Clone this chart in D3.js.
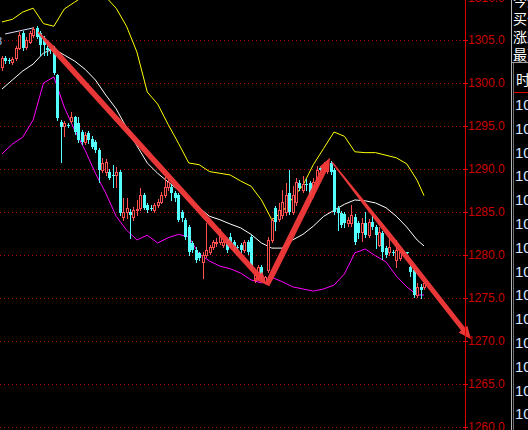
<!DOCTYPE html>
<html>
<head>
<meta charset="utf-8">
<script src="https://cdn.jsdelivr.net/npm/d3@7"></script>
<style>
  html, body { margin: 0; padding: 0; background: #000; overflow: hidden; }
  svg { display: block; }
</style>
</head>
<body>
<svg id="chart" width="528" height="430"></svg>
<script>
// OHLC bars: [open, high, low, close]
const candles = [
  [1301.9,1303.1,1301.5,1302.9],[1302.9,1303.1,1302.3,1302.5],[1302.7,1302.9,1302.3,1302.5],[1302.4,1303.0,1302.2,1302.8],
  [1302.9,1304.3,1302.7,1304.1],[1304.1,1305.9,1303.9,1305.6],[1305.8,1306.0,1303.8,1304.1],[1304.2,1305.4,1304.0,1305.0],
  [1304.8,1306.0,1304.6,1305.8],[1305.6,1306.5,1305.4,1306.3],[1306.4,1306.6,1305.2,1305.35],[1305.8,1306.0,1303.3,1304.4],
  [1305.2,1305.5,1303.3,1304.4],[1304.1,1304.8,1303.2,1303.8],[1303.9,1304.2,1303.5,1303.8],[1304.1,1304.3,1301.0,1301.2],
  [1300.9,1301.1,1295.7,1295.9],[1295.5,1295.7,1290.8,1294.9],[1295.0,1295.6,1293.8,1295.3],[1295.1,1295.3,1294.9,1295.1],
  [1295.6,1296.6,1295.3,1296.0],[1296.0,1296.2,1294.1,1294.3],[1295.3,1296.0,1293.1,1293.4],[1294.3,1294.5,1292.9,1293.1],
  [1293.1,1294.3,1292.9,1294.0],[1294.2,1294.4,1293.0,1293.4],[1293.5,1293.8,1292.4,1292.6],[1293.1,1293.4,1292.0,1292.2],
  [1292.2,1292.4,1288.5,1289.9],[1289.9,1291.3,1289.6,1290.7],[1289.6,1291.2,1289.3,1290.8],[1289.6,1290.0,1288.8,1289.0],
  [1289.3,1290.5,1287.9,1289.2],[1289.3,1290.2,1287.9,1289.6],[1289.6,1289.9,1284.6,1284.9],[1284.4,1286.6,1284.1,1285.0],
  [1285.0,1286.6,1284.3,1285.5],[1285.0,1285.3,1282.0,1284.6],[1284.4,1285.6,1284.1,1285.2],[1285.2,1286.4,1284.6,1285.3],
  [1285.5,1287.8,1285.2,1287.0],[1287.0,1287.2,1285.3,1285.5],[1285.8,1286.0,1285.0,1285.2],[1285.5,1285.8,1285.2,1285.4],
  [1285.2,1286.0,1285.0,1285.8],[1285.8,1286.5,1285.6,1286.2],[1286.2,1287.3,1286.0,1287.0],[1287.0,1289.1,1286.8,1287.9],
  [1287.9,1289.0,1287.6,1288.5],[1287.9,1288.2,1286.4,1287.2],[1287.2,1287.4,1286.3,1286.6],[1287.0,1287.2,1283.9,1284.1],
  [1285.0,1285.2,1284.0,1284.3],[1284.1,1284.3,1281.9,1282.1],[1283.3,1283.5,1280.0,1280.3],[1281.4,1281.6,1280.3,1280.6],
  [1280.6,1280.9,1279.2,1279.4],[1280.2,1280.4,1279.4,1279.65],[1279.2,1280.3,1277.3,1280.0],[1280.0,1283.7,1279.8,1280.6],
  [1280.3,1281.2,1280.1,1280.9],[1280.9,1281.8,1280.7,1281.5],[1281.4,1282.0,1281.0,1281.5],[1281.5,1283.0,1281.3,1282.6],
  [1281.2,1281.8,1280.9,1281.5],[1281.7,1282.0,1280.4,1280.6],[1282.1,1282.5,1281.0,1281.2],[1281.5,1281.7,1280.4,1280.6],
  [1280.9,1281.2,1280.6,1280.9],[1281.2,1281.4,1280.4,1280.6],[1280.6,1281.8,1280.4,1281.5],[1281.5,1281.7,1280.1,1280.3],
  [1282.1,1282.3,1278.4,1278.6],[1277.1,1278.0,1276.9,1277.7],[1277.4,1278.8,1277.2,1278.6],[1278.6,1278.8,1277.2,1277.4],
  [1276.9,1277.6,1276.7,1277.4],[1278.25,1282.1,1278.0,1281.7],[1281.7,1284.3,1281.5,1284.1],[1285.5,1285.7,1282.9,1283.8],
  [1284.2,1286.0,1283.9,1285.2],[1284.6,1287.6,1284.3,1286.2],[1285.0,1288.4,1284.7,1287.0],[1287.2,1289.9,1284.8,1285.0],
  [1285.0,1288.0,1284.8,1287.0],[1286.2,1289.0,1285.8,1288.5],[1288.4,1288.7,1287.5,1287.8],[1287.6,1289.2,1287.3,1288.2],
  [1288.3,1288.8,1287.5,1288.3],[1288.4,1288.6,1286.2,1287.0],[1287.2,1289.0,1286.8,1288.5],[1288.4,1290.3,1288.0,1289.9],
  [1290.1,1290.2,1289.7,1289.9],[1290.1,1290.8,1289.9,1290.5],[1289.8,1291.0,1289.5,1290.6],[1290.7,1290.9,1289.4,1289.6],
  [1289.9,1290.1,1284.8,1285.0],[1285.5,1285.7,1282.9,1284.9],[1284.9,1285.1,1283.3,1283.5],[1284.8,1285.0,1283.3,1283.7],
  [1283.7,1284.4,1283.4,1284.1],[1283.7,1285.8,1283.4,1284.6],[1284.4,1284.8,1281.3,1281.5],[1283.7,1283.9,1282.0,1282.6],
  [1282.7,1284.3,1281.6,1283.7],[1283.7,1285.0,1282.1,1282.3],[1282.3,1284.2,1282.1,1283.8],[1283.8,1284.8,1283.0,1283.3],
  [1283.3,1283.5,1280.8,1282.3],[1281.2,1283.2,1281.0,1282.7],[1282.6,1282.8,1279.5,1280.3],[1280.8,1281.0,1279.8,1280.0],
  [1280.3,1282.5,1280.0,1280.9],[1280.3,1280.6,1280.0,1280.2],[1279.4,1281.8,1278.6,1280.6],[1279.65,1280.6,1279.4,1280.3],
  [1280.3,1280.4,1280.2,1280.3],[1280.3,1280.4,1280.2,1280.3],[1278.6,1278.8,1277.5,1278.0],[1278.25,1278.5,1275.1,1275.35],
  [1275.35,1276.7,1275.1,1276.3],[1276.3,1276.6,1275.0,1275.9],[1276.3,1276.9,1276.1,1276.7]
];

// Bollinger band readings, sampled at these bar indices
const bandIndex = [0,3,6,9,12,15,18,21,24,27,30,33,36,39,42,45,48,51,54,57,60,63,66,69,72,75,78,81,84,87,90,93,96,99,102,105,108,111,114,117,120,122];
const upperBand = [1307.1,1307.4,1308.25,1308.7,1306.9,1306.6,1308.6,1309.4,1310.2,1310.6,1310.0,1308.7,1306.6,1303.6,1298.95,1297.55,1295.2,1293.0,1290.7,1290.5,1289.7,1289.5,1289.3,1288.6,1288.0,1286.4,1284.1,1285.0,1286.6,1288.1,1290.5,1292.4,1294.3,1293.8,1292.0,1291.9,1291.9,1291.6,1291.3,1290.6,1288.7,1286.9];
const middleBand = [1299.3,1300.35,1301.4,1302.2,1303.5,1303.95,1303.25,1302.55,1301.6,1300.35,1298.6,1297.0,1294.8,1292.7,1290.7,1289.5,1288.5,1287.55,1286.4,1285.5,1284.5,1284.1,1283.6,1283.15,1282.4,1281.4,1280.8,1280.8,1281.75,1282.4,1283.35,1284.5,1285.2,1285.9,1286.4,1286.3,1286.05,1285.5,1284.5,1283.25,1281.75,1281.05];
const lowerBand = [1291.75,1292.9,1293.7,1295.7,1300.0,1300.7,1297.2,1294.5,1292.2,1289.5,1287.2,1284.5,1282.9,1281.75,1282.3,1281.4,1282.0,1282.4,1282.1,1280.1,1279.3,1278.7,1278.4,1277.9,1277.1,1276.75,1277.4,1276.9,1276.3,1276.05,1275.8,1276.05,1276.5,1277.8,1280.25,1280.7,1279.9,1279.2,1277.55,1276.3,1275.35,1275.35];

// Hand-drawn trend arrows: [bar index, price] from tail to tip
const arrowDown1 = [[10.4, 1305.93], [76.6, 1276.5]];
const arrowUp = [[76.6, 1276.5], [94.8, 1291.3]];
const arrowDown2 = [[95.4, 1290.8], [135.6, 1270.2]];
const topLine = [[0.9, 1305.7], [9, 1306.4]];

// Price axis
const priceTicks = [1260, 1265, 1270, 1275, 1280, 1285, 1290, 1295, 1300, 1305, 1310];

// Quote panel labels
const panelLabels = ["今开", "买价", "涨跌", "最高"];
const panelHeader = "时间";
const panelRows = ["10","10","10","10","10","10","10","10","10","10","10","10","10","10"];

const svg = d3.select("#chart");
svg.append("rect").attr("width", 528).attr("height", 430).attr("fill", "#000");

const x = d3.scaleLinear().domain([0, candles.length - 1]).range([2, 424]);
const y = d3.scaleLinear().domain([1259.65, 1309.65]).range([430, 0]);
const axisX = 465;

svg.append("defs").append("clipPath").attr("id", "plotClip")
  .append("rect").attr("x", 0).attr("y", 0).attr("width", axisX).attr("height", 430);

// Dotted grid at each price level
svg.append("g").selectAll("line").data(priceTicks).join("line")
  .attr("x1", 0).attr("x2", axisX - 3)
  .attr("y1", d => Math.round(y(d)) + 0.5).attr("y2", d => Math.round(y(d)) + 0.5)
  .attr("stroke", "#b00000").attr("stroke-width", 1)
  .attr("stroke-dasharray", "1,3").attr("shape-rendering", "crispEdges");

const plot = svg.append("g").attr("clip-path", "url(#plotClip)");

// Bollinger bands
const bandLine = d3.line().x(d => x(d[0])).y(d => y(d[1]));
[[upperBand, "#ffff00"], [middleBand, "#ffffff"], [lowerBand, "#ff00ff"]].forEach(([vals, col]) => {
  plot.append("path")
    .attr("d", bandLine(bandIndex.map((idx, i) => [idx, vals[i]])))
    .attr("fill", "none").attr("stroke", col).attr("stroke-width", 1);
});

plot.append("path").attr("d", bandLine(topLine))
  .attr("fill", "none").attr("stroke", "#dcdcff").attr("stroke-width", 1);

// Candles: rising bars hollow red, falling bars solid cyan
const upCol = "#ff4f4f", downCol = "#54ffff";
const cg = plot.append("g").attr("shape-rendering", "crispEdges");
candles.forEach((c, i) => {
  const [o, h, l, cl] = c;
  const cx = Math.round(x(i));
  const up = cl > o;
  const col = up ? upCol : downCol;
  const yTop = Math.round(y(Math.max(o, cl)));
  const yBot = Math.round(y(Math.min(o, cl)));
  cg.append("line").attr("x1", cx + 0.5).attr("x2", cx + 0.5)
    .attr("y1", Math.round(y(h))).attr("y2", Math.round(y(l)) + 1)
    .attr("stroke", col).attr("stroke-width", 1);
  if (up) {
    cg.append("rect").attr("x", cx - 0.5).attr("y", yTop + 0.5)
      .attr("width", 2).attr("height", Math.max(0, yBot - yTop))
      .attr("fill", "#000").attr("stroke", col).attr("stroke-width", 1);
  } else {
    cg.append("rect").attr("x", cx - 1).attr("y", yTop)
      .attr("width", 3).attr("height", Math.max(1, yBot - yTop))
      .attr("fill", col);
  }
});

// Arrow shapes drawn as polygons with a tapered tail and a pointed head
function arrowPoints(pts, w0, w1, f, headLen, headHalf) {
  const x0 = x(pts[0][0]), y0 = y(pts[0][1]);
  const x1 = x(pts[1][0]), y1 = y(pts[1][1]);
  const dx = x1 - x0, dy = y1 - y0, L = Math.hypot(dx, dy);
  const ux = dx / L, uy = dy / L, nx = -uy, ny = ux;
  const base = L - headLen;
  const p = (s, w) => [x0 + ux * s + nx * w, y0 + uy * s + ny * w];
  return [p(0, w0 / 2), p(f * base, w1 / 2), p(base, w1 / 2), p(base, headHalf), p(L, 0),
          p(base, -headHalf), p(base, -w1 / 2), p(f * base, -w1 / 2), p(0, -w0 / 2)];
}
const ag = svg.append("g");
[[arrowDown1, 1.5, 5.5, 0.07], [arrowUp, 5, 6, 0.1], [arrowDown2, 1.5, 5, 0.45]].forEach(([pts, w0, w1, f]) => {
  ag.append("polygon")
    .attr("points", arrowPoints(pts, w0, w1, f, 13, 5.5).map(q => q.join(",")).join(" "))
    .attr("fill", "#f63a3a").attr("fill-opacity", 0.95);
});

// Right price axis
svg.append("line").attr("x1", axisX + 0.5).attr("x2", axisX + 0.5).attr("y1", 0).attr("y2", 430)
  .attr("stroke", "#e00000").attr("stroke-width", 1).attr("shape-rendering", "crispEdges");
const axisG = svg.append("g").attr("transform", `translate(${axisX},0)`);
axisG.selectAll("line.tick").data(priceTicks).join("line").attr("class", "tick")
  .attr("x1", -2).attr("x2", 3)
  .attr("y1", d => Math.round(y(d)) + 0.5).attr("y2", d => Math.round(y(d)) + 0.5)
  .attr("stroke", "#e00000").attr("shape-rendering", "crispEdges");
axisG.selectAll("text").data(priceTicks).join("text")
  .attr("x", 3).attr("y", d => y(d) + 4.5)
  .attr("fill", "#c80000")
  .attr("font-family", "Liberation Sans, Arial, sans-serif").attr("font-size", 12)
  .text(d => d3.format(".1f")(d));

// Cut-off label at the left edge
svg.append("text").attr("x", -4).attr("y", 45).attr("fill", "#a8ccff")
  .attr("font-family", "Liberation Sans, Arial, sans-serif").attr("font-size", 11).text("3");

// Quote panel on the far right
const panel = svg.append("g");
panel.append("line").attr("x1", 511.5).attr("x2", 511.5).attr("y1", 0).attr("y2", 430)
  .attr("stroke", "#b4b4b4").attr("shape-rendering", "crispEdges");
panel.append("line").attr("x1", 512).attr("x2", 528).attr("y1", 62.5).attr("y2", 62.5)
  .attr("stroke", "#a0a0a0").attr("shape-rendering", "crispEdges");
panel.append("line").attr("x1", 513.5).attr("x2", 513.5).attr("y1", 63).attr("y2", 430)
  .attr("stroke", "#707070").attr("shape-rendering", "crispEdges");
panel.append("line").attr("x1", 514).attr("x2", 528).attr("y1", 92.5).attr("y2", 92.5)
  .attr("stroke", "#e00000").attr("shape-rendering", "crispEdges");
panel.selectAll("text.lbl").data(panelLabels).join("text").attr("class", "lbl")
  .attr("x", 513).attr("y", (d, i) => 6 + i * 18)
  .attr("fill", "#ffffff").attr("font-family", "Noto Sans CJK SC, sans-serif").attr("font-size", 14)
  .text(d => d);
panel.append("text").attr("x", 516).attr("y", 85)
  .attr("fill", "#ffffff").attr("font-family", "Noto Sans CJK SC, sans-serif").attr("font-size", 14)
  .text(panelHeader);
panel.selectAll("text.row").data(panelRows).join("text").attr("class", "row")
  .attr("x", 515).attr("y", (d, i) => 110 + i * 23.8)
  .attr("fill", "#d2e6ff").attr("font-family", "Liberation Sans, Arial, sans-serif").attr("font-size", 15)
  .text(d => d);
</script>
</body>
</html>
